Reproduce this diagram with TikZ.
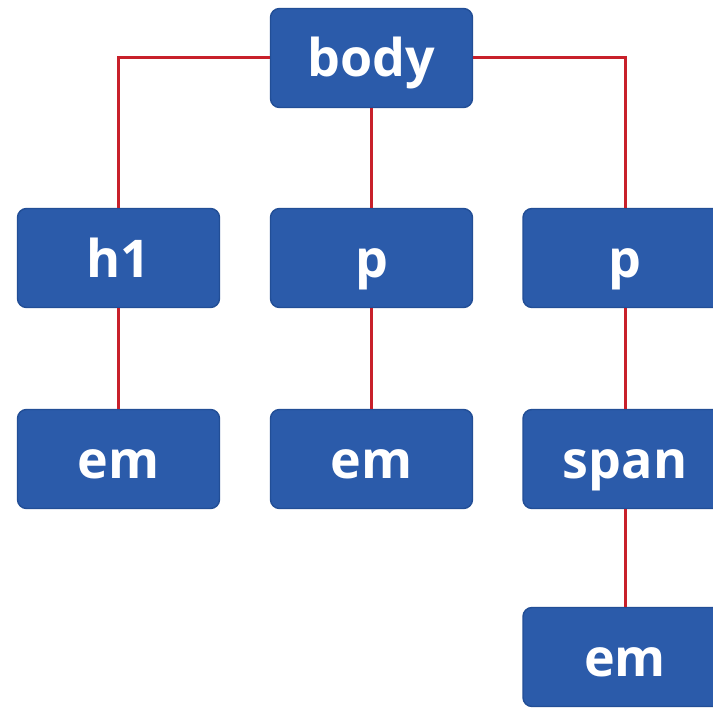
\documentclass[tikz,border=0pt]{standalone}
\usepackage{fontspec}
\setmainfont{Open Sans}
\begin{document}
\begin{tikzpicture}[x=1pt,y=-1pt,
  tag/.style={draw=boxedge,line width=1.4pt,fill=boxblue,rounded corners=9pt,minimum width=202pt,minimum height=99pt,inner sep=0pt,text height=38pt,text depth=0pt,text=white,font=\fontsize{52}{56}\selectfont\bfseries},
  link/.style={draw=linkred,line width=3pt}]
\definecolor{boxblue}{HTML}{2B5BAA}
\definecolor{boxedge}{HTML}{224E96}
\definecolor{linkred}{HTML}{C8202A}
\useasboundingbox (0,0) rectangle (713,709);
\fill[white] (0,0) rectangle (713,709);
\clip (0,0) rectangle (713,709);
\coordinate (cl) at (118.5,58);
\coordinate (cr) at (625,58);
\node[tag,minimum width=204pt] (pr) at (625,258) {p};
\node[tag] (body) at (371.5,58) {body};
\node[tag] (h1) at (118.5,258) {h1};
\node[tag] (pm) at (371.5,258) {p};
\node[tag] (em1) at (118.5,459) {em};
\node[tag] (em2) at (371.5,459) {em};
\node[tag,minimum width=204pt] (span) at (625,459) {span};
\node[tag,minimum width=204pt] (em3) at (625,657) {em};
\draw[link] (body.west) -- (cl) -- (h1.north);
\draw[link] (body.east) -- (cr) -- (pr.north);
\draw[link] (body.south) -- (pm.north);
\draw[link] (h1.south) -- (em1.north);
\draw[link] (pm.south) -- (em2.north);
\draw[link] (pr.south) -- (span.north);
\draw[link] (span.south) -- (em3.north);
\end{tikzpicture}
\end{document}
